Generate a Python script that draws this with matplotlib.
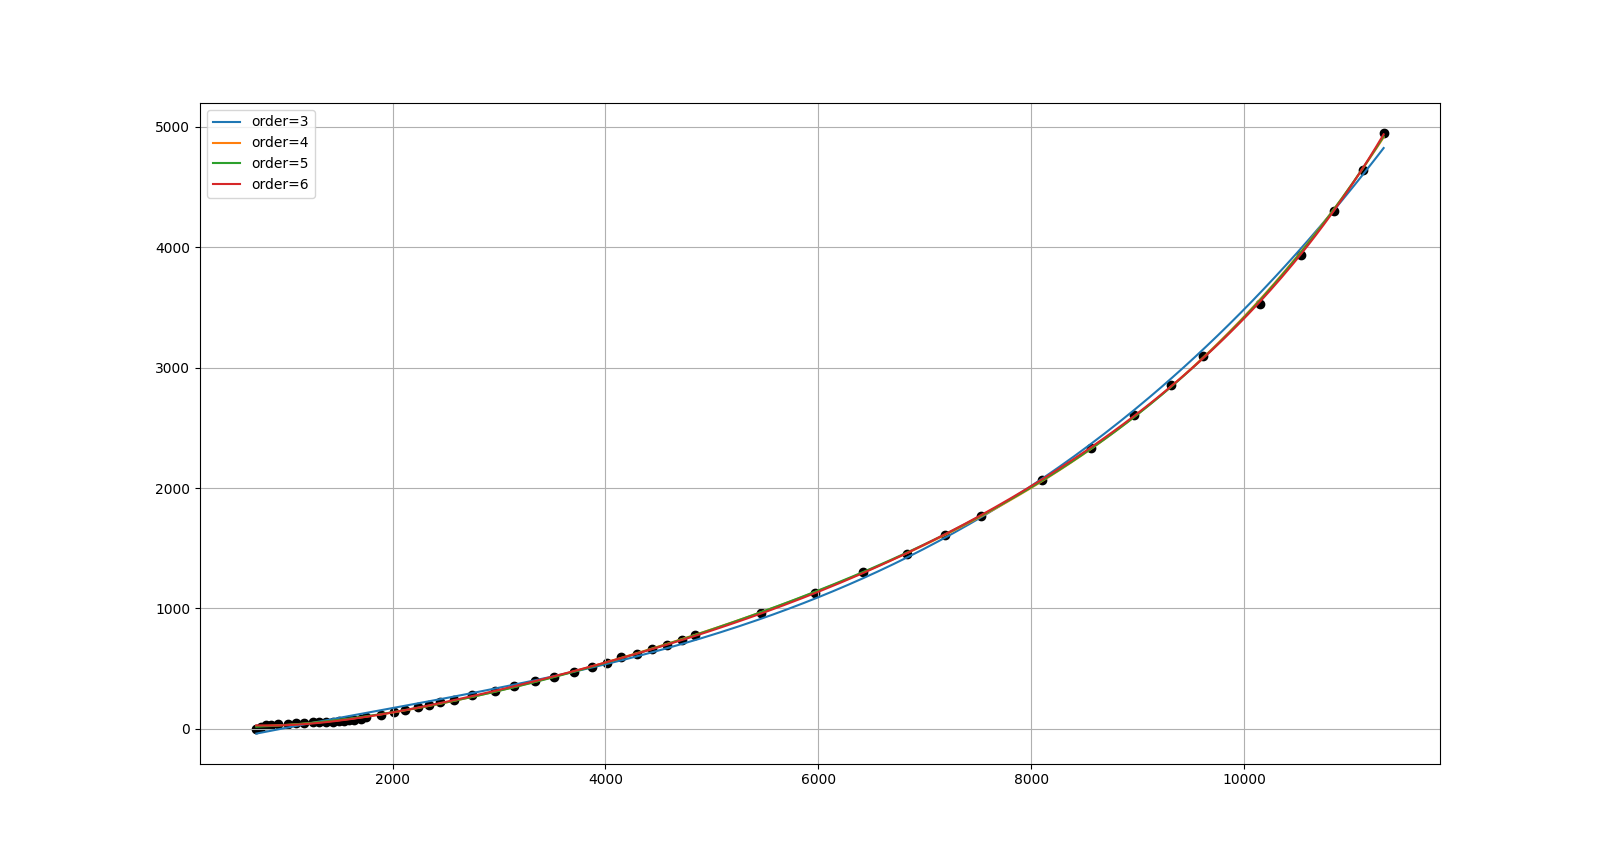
import numpy as np
import matplotlib
matplotlib.use('Agg')
import matplotlib.pyplot as plt

x_data = [720, 765, 810, 860, 920, 1015, 1095, 1170, 1250, 1310, 1375, 1440,
          1500, 1545, 1595, 1640, 1700, 1750, 1890, 2015, 2118, 2238, 2344,
          2447, 2578, 2750, 2960, 3141, 3335, 3520, 3700, 3870, 4017, 4150,
          4298, 4442, 4577, 4717, 4845, 5462, 5971, 6424, 6834, 7190, 7528,
          8098, 8567, 8966, 9312, 9614, 10146, 10537, 10843, 11115, 11312]
y_data = [2, 18, 28, 34, 40, 42, 47, 50, 53, 56, 60, 60,
          63, 66, 70, 73, 80, 100, 112, 138, 154, 178, 195,
          220, 235, 282, 312, 357, 398, 431, 473, 514, 550, 595,
          624, 666, 697, 739, 779, 958, 1128, 1302, 1454, 1614, 1766,
          2067, 2332, 2606, 2855, 3093, 3532, 3935, 4306, 4646, 4950]
orders = [3, 4, 5, 6]

if __name__ == '__main__':
    x = np.array(x_data, dtype=float)
    y = np.array(y_data, dtype=float)

    fig = plt.figure(figsize=(16, 8.58), dpi=100)
    plt.scatter(x, y, color='black')

    # polynomial fits of increasing order
    xs = np.linspace(x.min(), x.max(), 300)
    for order in orders:
        coef = np.polyfit(x, y, order)
        plt.plot(xs, np.polyval(coef, xs), label='order=%d' % order)

    plt.legend(loc='upper left')
    plt.grid(True)
    plt.savefig('out.png', dpi=100)
